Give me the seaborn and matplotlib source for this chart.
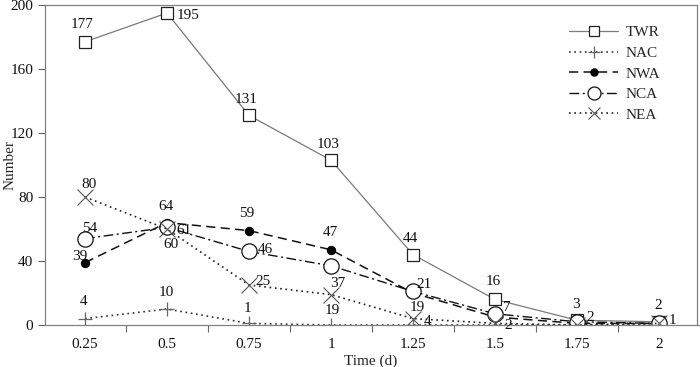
import numpy as np
import pandas as pd
import matplotlib
matplotlib.use("Agg")
import matplotlib.pyplot as plt
from matplotlib.ticker import FixedLocator
from matplotlib.lines import Line2D
import seaborn as sns

# ---- data ----
time = [0.25, 0.5, 0.75, 1.0, 1.25, 1.5, 1.75, 2.0]
time_labels = ["0.25", "0.5", "0.75", "1", "1.25", "1.5", "1.75", "2"]
TWR = [177, 195, 131, 103, 44, 16, 3, 2]
NAC = [4, 10, 1, 0, 0, 0, 0, 0]
NWA = [39, 64, 59, 47, 20, 5, 1, 1]
NCA = [54, 61, 46, 37, 21, 7, 2, 1]
NEA = [80, 60, 25, 19, 4, 1, 0, 1]
series_names = ["TWR", "NAC", "NWA", "NCA", "NEA"]

# value labels as printed on the chart: (text, time, label height)
label_texts = ["177", "195", "131", "103", "80", "54", "39", "4", "64", "61", "60", "10",
               "59", "46", "25", "1", "47", "37", "19", "44", "21", "19", "4", "16", "7",
               "2", "3", "2", "2", "1"]
label_x = [0.24, 0.564, 0.741, 0.991, 0.262, 0.265, 0.235, 0.247, 0.497, 0.552, 0.512, 0.497,
           0.744, 0.80, 0.793, 0.744, 0.997, 1.02, 1.003, 1.241, 1.283, 1.262, 1.293, 1.494, 1.536,
           1.54, 1.747, 1.79, 1.997, 2.04]
label_y = [187.5, 193.5, 141, 113, 87.5, 60, 42.5, 14.4, 74, 58.8, 50, 20,
           69.4, 46.9, 26.9, 10.6, 57.5, 26, 8.8, 54, 25, 11, 2, 27, 11,
           -0.6, 13, 4.4, 12, 3]

df = pd.DataFrame({"Time": time, "TWR": TWR, "NAC": NAC, "NWA": NWA, "NCA": NCA, "NEA": NEA})

sns.set_style("ticks")
plt.rcParams["font.family"] = ["Liberation Serif", "DejaVu Serif"]
plt.rcParams["font.size"] = 11

fig = plt.figure(figsize=(7.0, 3.67), dpi=100)
ax = fig.add_axes([45 / 700, 1 - 325 / 367, 652 / 700, 320 / 367])

styles = {
    "TWR": dict(color="#7a7a7a", linestyle="-", linewidth=0.9, marker="s", markersize=9,
                markerfacecolor="white", markeredgecolor="#222222", markeredgewidth=0.9),
    "NAC": dict(color="#333333", linestyle=(0, (1, 2.2)), linewidth=1.2, marker="+", markersize=10,
                markeredgecolor="#666666", markeredgewidth=0.9),
    "NWA": dict(color="#111111", linestyle=(0, (6, 3.5)), linewidth=1.1, marker="o", markersize=6,
                markerfacecolor="black", markeredgecolor="black"),
    "NCA": dict(color="#111111", linestyle=(0, (7, 2.5, 1.5, 2.5)), linewidth=1.0, marker="o",
                markersize=11, markerfacecolor="white", markeredgecolor="#111111", markeredgewidth=0.9),
    "NEA": dict(color="#222222", linestyle=(0, (1, 2.2)), linewidth=1.2, marker="x", markersize=11,
                markeredgecolor="#555555", markeredgewidth=0.8),
}

for name in series_names:
    sns.lineplot(data=df, x="Time", y=name, ax=ax, legend=False, **styles[name])

for t, x, y in zip(label_texts, label_x, label_y):
    ax.text(x, y, t, ha="center", va="center", fontsize=11, color="#111111")

ax.set_xlim(0.128, 2.116)
ax.set_ylim(0, 200)
ax.set_yticks([0, 40, 80, 120, 160, 200])
ax.set_xticks(time)
ax.set_xticklabels(time_labels)
ax.xaxis.set_minor_locator(FixedLocator([0.375, 0.625, 0.875, 1.125, 1.375, 1.625, 1.875]))
ax.tick_params(axis="x", which="major", length=0, pad=9, labelsize=11, colors="#111111")
ax.tick_params(axis="x", which="minor", length=5, width=0.8, direction="out", color="#666666")
ax.tick_params(axis="y", which="major", length=5, width=0.8, direction="out", color="#666666",
               labelsize=11, labelcolor="#111111")
ax.set_xlabel("Time (d)", fontsize=11, labelpad=3)
ax.set_ylabel("Number", fontsize=11, va="center")
ax.yaxis.set_label_coords(-0.053, 0.5)
for side in ["left", "bottom", "top", "right"]:
    ax.spines[side].set_visible(True)
    ax.spines[side].set_color("#808080")
    ax.spines[side].set_linewidth(0.9)
ax.spines["bottom"].set_bounds(0.128, 2.16)
ax.spines["bottom"].set_clip_on(False)

handles = [Line2D([0], [0], **styles[n]) for n in series_names]
leg = ax.legend(handles, series_names, loc="upper right", bbox_to_anchor=(0.965, 0.978),
                frameon=False, handlelength=3.2, labelspacing=0.45, fontsize=11,
                handletextpad=0.5, markerscale=0.85)

fig.savefig("out.png", dpi=100)
